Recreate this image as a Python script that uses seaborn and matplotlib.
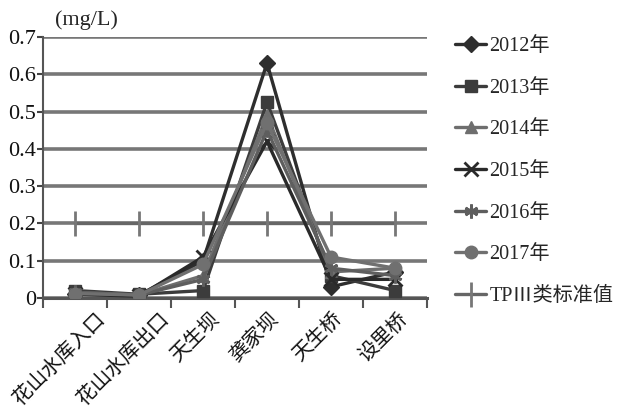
import matplotlib
matplotlib.use("Agg")
import matplotlib.pyplot as plt
import matplotlib.transforms as mtransforms
import seaborn as sns
import pandas as pd

sites = ["花山水库入口", "花山水库出口", "天生坝", "龚家坝", "天生桥", "设里桥"]
years = ["2012年", "2013年", "2014年", "2015年", "2016年", "2017年"]
tp_2012 = [0.010, 0.008, 0.100, 0.630, 0.030, 0.070]
tp_2013 = [0.020, 0.010, 0.020, 0.525, 0.060, 0.020]
tp_2014 = [0.015, 0.008, 0.060, 0.490, 0.070, 0.080]
tp_2015 = [0.010, 0.005, 0.110, 0.420, 0.050, 0.050]
tp_2016 = [0.015, 0.008, 0.050, 0.450, 0.080, 0.060]
tp_2017 = [0.012, 0.008, 0.090, 0.470, 0.110, 0.080]
standard_label = "TPⅢ类标准值"
standard_values = [0.2, 0.2, 0.2, 0.2, 0.2, 0.2]
y_ticks = [0, 0.1, 0.2, 0.3, 0.4, 0.5, 0.6, 0.7]
y_tick_labels = ["0", "0.1", "0.2", "0.3", "0.4", "0.5", "0.6", "0.7"]

series = [tp_2012, tp_2013, tp_2014, tp_2015, tp_2016, tp_2017]
colors = ["#2e2e2e", "#3c3c3c", "#6e6e6e", "#2a2a2a", "#5e5e5e", "#707070"]
markers = ["D", "s", "^", "x", (6, 2, 0), "o"]
msizes = [8, 9, 9, 10, 10, 9]

sns.set_theme(style="white")
fonts = ["Liberation Serif", "Noto Sans CJK SC", "DejaVu Sans"]
plt.rcParams["font.family"] = fonts
plt.rcParams["axes.unicode_minus"] = False

fig = plt.figure(figsize=(6.17, 4.12), dpi=100)
ax = fig.add_axes([0.0697, 0.2767, 0.6224, 0.6335])

pos = list(range(len(sites)))
for yr, vals, c, m, ms in zip(years, series, colors, markers, msizes):
    df = pd.DataFrame({"x": pos, "v": vals})
    sns.lineplot(data=df, x="x", y="v", ax=ax, color=c, lw=2.4,
                 marker=m, markersize=ms, markeredgecolor=c,
                 markeredgewidth=2 if m in ("x", (6, 2, 0)) else 1,
                 label=yr, zorder=4)

df_std = pd.DataFrame({"x": pos, "v": standard_values})
sns.lineplot(data=df_std, x="x", y="v", ax=ax, color="#666666", lw=2.4,
             marker="|", markersize=18, markeredgewidth=2.0,
             markeredgecolor="#777777", label=standard_label, zorder=3)

ax.set_xlim(-0.5, len(sites) - 0.5)
ax.set_ylim(0, 0.7)
ax.set_yticks(y_ticks)
ax.set_yticklabels(y_tick_labels, fontsize=16, family=fonts)
ax.set_xticks(pos)
ax.set_xticklabels([])
ax.tick_params(axis="x", length=0)
ax.tick_params(axis="y", length=4, width=1.5, color="#444444", pad=1,
               left=True, labelcolor="#111111")
# category boundary ticks on the x axis
ax.set_xticks([i - 0.5 for i in range(len(sites) + 1)], minor=True)
ax.tick_params(axis="x", which="minor", length=7, width=1.5,
               color="#555555", bottom=True, direction="out")
ax.set_xlabel("")
ax.set_ylabel("")

# rotated site names; the last character sits just below each category
label_dx = [28, 28, 14, 9, 9, 10]
for i, (name, dx) in enumerate(zip(sites, label_dx)):
    tr = ax.get_xaxis_transform() + mtransforms.ScaledTranslation(
        dx / 100, -19 / 100, fig.dpi_scale_trans)
    ax.text(i, 0, name, transform=tr, rotation=45, rotation_mode="anchor",
            ha="right", va="center", fontsize=14.5, family=fonts,
            color="#111111")

ax.yaxis.grid(True, color="#777777", lw=2.6)
ax.set_axisbelow(True)
for s in ["top", "right"]:
    ax.spines[s].set_visible(False)
ax.spines["left"].set_color("#555555")
ax.spines["left"].set_linewidth(1.5)
ax.spines["bottom"].set_color("#555555")
ax.spines["bottom"].set_linewidth(2.2)

fig.text(86 / 617, 1 - 20 / 412, "(mg/L)", fontsize=16, family=fonts,
         ha="center", va="center")

leg = ax.legend(loc="upper left", bbox_to_anchor=(447 / 617, 1 - 29 / 412),
                bbox_transform=fig.transFigure, frameon=False,
                handlelength=1.55, handletextpad=0.15, labelspacing=1.12,
                borderaxespad=0, prop={"family": fonts, "size": 14.5})

fig.savefig("out.png", dpi=100, facecolor="white")
